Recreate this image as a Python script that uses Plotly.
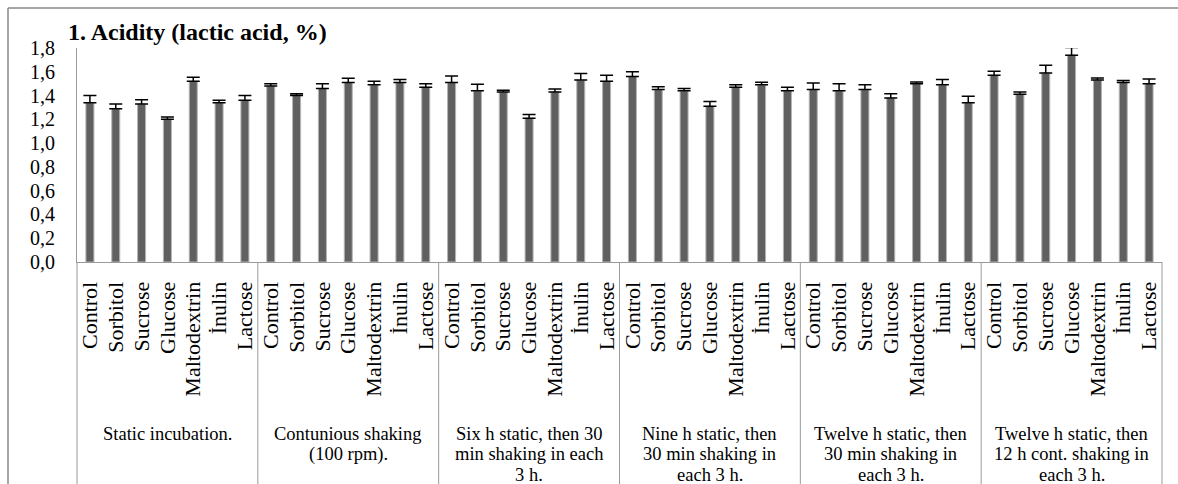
import plotly.graph_objects as go

# ---------------- data ----------------
sugars = ["Control", "Sorbitol", "Sucrose", "Glucose", "Maltodextrin", "İnulin", "Lactose"]
groups = [
    "Static incubation.",
    "Contunious shaking<br>(100 rpm).",
    "Six h static, then 30<br>min shaking in each<br>3 h.",
    "Nine h static, then<br>30 min shaking in<br>each 3 h.",
    "Twelve h static, then<br>30 min shaking in<br>each 3 h.",
    "Twelve h static, then<br>12 h cont. shaking in<br>each 3 h.",
]
static_vals = [1.34, 1.29, 1.33, 1.20, 1.52, 1.34, 1.36]
static_err = [0.06, 0.04, 0.035, 0.02, 0.035, 0.02, 0.04]
shaking_vals = [1.48, 1.40, 1.46, 1.51, 1.49, 1.51, 1.47]
shaking_err = [0.02, 0.015, 0.04, 0.035, 0.03, 0.025, 0.03]
six_vals = [1.51, 1.44, 1.43, 1.21, 1.43, 1.53, 1.52]
six_err = [0.055, 0.055, 0.015, 0.03, 0.025, 0.055, 0.05]
nine_vals = [1.56, 1.45, 1.44, 1.31, 1.47, 1.49, 1.44]
nine_err = [0.04, 0.025, 0.02, 0.04, 0.02, 0.022, 0.03]
twelve_vals = [1.45, 1.44, 1.45, 1.38, 1.50, 1.49, 1.34]
twelve_err = [0.055, 0.06, 0.04, 0.035, 0.015, 0.045, 0.055]
twelve_cont_vals = [1.57, 1.41, 1.59, 1.74, 1.53, 1.51, 1.50]
twelve_cont_err = [0.035, 0.02, 0.065, 0.065, 0.017, 0.017, 0.04]
y_tick_vals = [0.0, 0.2, 0.4, 0.6, 0.8, 1.0, 1.2, 1.4, 1.6, 1.8]
y_tick_text = ["0,0", "0,2", "0,4", "0,6", "0,8", "1,0", "1,2", "1,4", "1,6", "1,8"]
title_text = "1. Acidity (lactic acid, %)"

# ---------------- layout constants ----------------
W, H = 1178, 484
ML, MR, MT, MB = 77, 16, 48, 222
PW, PH = W - ML - MR, H - MT - MB
FONT = "Liberation Serif"
GRAY = "#9a9a9a"


def px2x(px):
    return (px - ML) / PW


def py2y(py):
    return (H - MB - py) / PH


all_vals = static_vals + shaking_vals + six_vals + nine_vals + twelve_vals + twelve_cont_vals
all_err = static_err + shaking_err + six_err + nine_err + twelve_err + twelve_cont_err
n = len(all_vals)
xs = list(range(n))
labels = sugars * len(groups)

fig = go.Figure()
fig.add_trace(go.Bar(
    x=xs, y=all_vals, width=0.31,
    marker=dict(color="#606060", line=dict(color="#b4b4b4", width=1)),
    error_y=dict(type="data", array=all_err, arrayminus=[0] * n, symmetric=False,
                 color="black", thickness=1.5, width=6.5),
    showlegend=False,
))

shapes = []
# group separators
ng = len(groups)
per = len(sugars)
for k in range(ng + 1):
    xp = k * per / n
    shapes.append(dict(type="line", xref="paper", yref="paper", x0=xp, x1=xp,
                       y0=0, y1=py2y(H), line=dict(color=GRAY, width=1)))
# outer chart border (top and left)
shapes.append(dict(type="line", xref="paper", yref="paper", x0=px2x(8), x1=px2x(W + 5),
                   y0=py2y(8), y1=py2y(8), line=dict(color="#888888", width=1.5)))
shapes.append(dict(type="line", xref="paper", yref="paper", x0=px2x(8), x1=px2x(8),
                   y0=py2y(8), y1=py2y(H + 5), line=dict(color="#888888", width=1.5)))

annotations = []
line_y = [433.5, 454, 474.5]
for gi, g in enumerate(groups):
    cx = (gi + 0.5) * per / n
    for li, ln in enumerate(g.split("<br>")):
        annotations.append(dict(text=ln, xref="paper", yref="paper", x=cx, y=py2y(line_y[li]),
                                xanchor="center", yanchor="middle", showarrow=False,
                                borderpad=0,
                                font=dict(family=FONT, size=18.5, color="black")))
annotations.append(dict(text="<b>" + title_text + "</b>", xref="paper", yref="paper",
                        x=px2x(66), y=py2y(32), xanchor="left", yanchor="middle",
                        showarrow=False, font=dict(family=FONT, size=24, color="black")))

fig.update_layout(
    width=W, height=H,
    margin=dict(l=ML, r=MR, t=MT, b=MB, pad=0),
    paper_bgcolor="white", plot_bgcolor="white",
    shapes=shapes, annotations=annotations,
    xaxis=dict(range=[-0.5, n - 0.5], tickmode="array", tickvals=xs, ticktext=labels,
               tickangle=-90, showgrid=False, zeroline=False, showline=True,
               linecolor=GRAY, linewidth=1, ticks="", ticklabelstandoff=10,
               tickfont=dict(family=FONT, size=22, color="black"), fixedrange=True),
    yaxis=dict(range=[0, 1.8], tickmode="array", tickvals=y_tick_vals, ticktext=y_tick_text,
               showgrid=False, zeroline=False, showline=True, linecolor=GRAY, linewidth=1,
               ticks="", ticklabelstandoff=17,
               tickfont=dict(family=FONT, size=20, color="black"), fixedrange=True),
)

fig.write_html("out.html")
